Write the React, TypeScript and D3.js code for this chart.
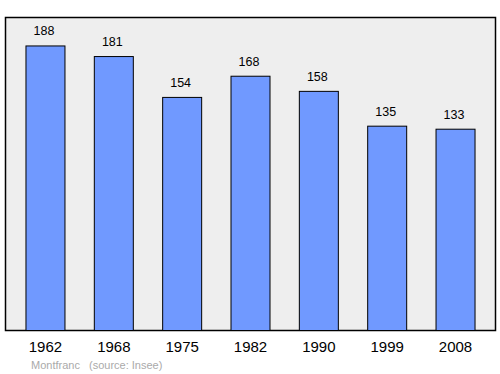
import React from "react";
import * as d3 from "d3";

const years = ["1962", "1968", "1975", "1982", "1990", "1999", "2008"];
const population = [188, 181, 154, 168, 158, 135, 133];
const placeLabel = "Montfranc";
const sourceLabel = "(source: Insee)";

export default function App() {
  const W = 500, H = 374;
  const plot = { left: 5.5, top: 17.5, right: 495.5, bottom: 330.5 };
  const x = d3.scalePoint<string>().domain(years).range([11.3, 489.7]).padding(0.5);
  const y = d3.scaleLinear().domain([0, 188 * 1.1]).range([plot.bottom, plot.top]);
  const bw = 39;
  return (
    <svg width={W} height={H} style={{ position: "absolute", left: 0, top: 0 }} fontFamily="'Liberation Sans', Arial, sans-serif">
      <rect x={plot.left} y={plot.top} width={plot.right - plot.left} height={plot.bottom - plot.top} fill="#eeeeee" stroke="#000" strokeWidth={1.5} />
      {years.map((yr, i) => {
        const cx = x(yr)!;
        const v = population[i];
        return (
          <g key={yr}>
            <rect x={cx - bw / 2} y={y(v)} width={bw} height={plot.bottom - y(v)} fill="#7099ff" stroke="#000" strokeWidth={1} />
            <text x={cx - 1.5} y={y(v) - 10.5} textAnchor="middle" fontSize={12.5} fill="#000">{v}</text>
            <text x={cx} y={352} textAnchor="middle" fontSize={15} fill="#000">{yr}</text>
          </g>
        );
      })}
      <text x={31} y={369} fontSize={11} fill="#aaaaaa">{placeLabel}</text>
      <text x={89} y={369} fontSize={11} fill="#aaaaaa">{sourceLabel}</text>
    </svg>
  );
}
